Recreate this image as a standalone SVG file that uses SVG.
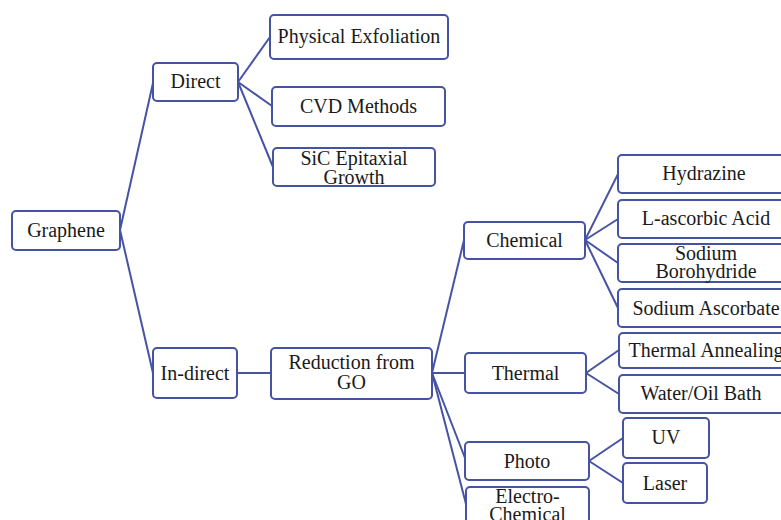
<svg xmlns="http://www.w3.org/2000/svg" width="781" height="520" viewBox="0 0 781 520">
<style>
.n rect{fill:#fff;stroke:#4653a3;stroke-width:2}
.n text{font-family:"Liberation Serif","Times New Roman",serif;font-size:20px;fill:#1a1a1a;text-anchor:middle}
#edges line{stroke:#4653a3;stroke-width:2}
</style>
<rect width="781" height="520" fill="#fff"/>
<g id="edges">
<line x1="120" y1="230" x2="153" y2="83"/>
<line x1="120" y1="230" x2="153" y2="373"/>
<line x1="238" y1="82" x2="270" y2="37"/>
<line x1="238" y1="82" x2="272" y2="106"/>
<line x1="238" y1="82" x2="273" y2="167"/>
<line x1="237" y1="373" x2="271" y2="373"/>
<line x1="432" y1="373" x2="464" y2="240"/>
<line x1="432" y1="373" x2="465" y2="373"/>
<line x1="432" y1="373" x2="465" y2="458"/>
<line x1="432" y1="373" x2="466" y2="504"/>
<line x1="585" y1="240" x2="618" y2="174"/>
<line x1="585" y1="240" x2="618" y2="219"/>
<line x1="585" y1="240" x2="618" y2="263"/>
<line x1="585" y1="240" x2="618" y2="308"/>
<line x1="586" y1="373" x2="619" y2="350"/>
<line x1="586" y1="373" x2="619" y2="394"/>
<line x1="589" y1="461" x2="623" y2="438"/>
<line x1="589" y1="461" x2="623" y2="483"/>
</g>
<g id="graphene" class="n"><rect x="12" y="211" width="108" height="39" rx="4"/><text x="66" y="237">Graphene</text></g>
<g id="direct" class="n"><rect x="153" y="63" width="85" height="38" rx="4"/><text x="195.5" y="88">Direct</text></g>
<g id="physical" class="n"><rect x="270" y="15" width="178" height="44" rx="4"/><text x="359" y="43">Physical Exfoliation</text></g>
<g id="cvd" class="n"><rect x="272" y="87" width="173" height="39" rx="4"/><text x="358.5" y="113">CVD Methods</text></g>
<g id="sic" class="n"><rect x="273" y="148" width="162" height="38" rx="4"/><text x="354" y="165">SiC Epitaxial</text><text x="354" y="184">Growth</text></g>
<g id="indirect" class="n"><rect x="153" y="348" width="84" height="50" rx="4"/><text x="195" y="380">In-direct</text></g>
<g id="reduction" class="n"><rect x="271" y="348" width="161" height="51" rx="4"/><text x="351.5" y="369">Reduction from</text><text x="351.5" y="389">GO</text></g>
<g id="chemical" class="n"><rect x="464" y="222" width="121" height="37" rx="4"/><text x="524.5" y="247">Chemical</text></g>
<g id="thermal" class="n"><rect x="465" y="353" width="121" height="40" rx="4"/><text x="525.5" y="380">Thermal</text></g>
<g id="photo" class="n"><rect x="465" y="442" width="124" height="38" rx="4"/><text x="527" y="468">Photo</text></g>
<g id="electro" class="n"><rect x="466" y="487" width="123" height="45" rx="4"/><text x="527.5" y="503">Electro-</text><text x="527.5" y="521">Chemical</text></g>
<g id="hydrazine" class="n"><rect x="618" y="155" width="173" height="38" rx="4"/><text x="704" y="180">Hydrazine</text></g>
<g id="lascorbic" class="n"><rect x="618" y="200" width="173" height="38" rx="4"/><text x="706" y="225">L-ascorbic Acid</text></g>
<g id="borohydride" class="n"><rect x="618" y="244" width="173" height="38" rx="4"/><text x="706" y="260">Sodium</text><text x="706" y="278">Borohydride</text></g>
<g id="ascorbate" class="n"><rect x="618" y="289" width="173" height="38" rx="4"/><text x="706" y="315">Sodium Ascorbate</text></g>
<g id="annealing" class="n"><rect x="619" y="333" width="172" height="35" rx="4"/><text x="706" y="357">Thermal Annealing</text></g>
<g id="bath" class="n"><rect x="619" y="375" width="172" height="38" rx="4"/><text x="701" y="400">Water/Oil Bath</text></g>
<g id="uv" class="n"><rect x="623" y="418" width="86" height="40" rx="4"/><text x="666" y="444">UV</text></g>
<g id="laser" class="n"><rect x="623" y="463" width="84" height="40" rx="4"/><text x="665" y="490">Laser</text></g>
</svg>
